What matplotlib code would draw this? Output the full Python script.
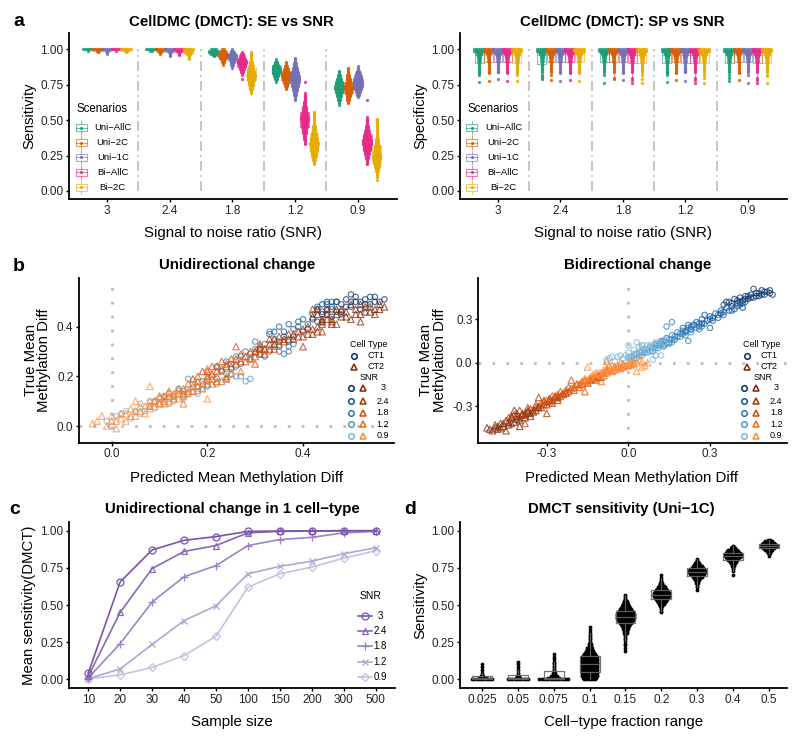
import numpy as np
import matplotlib
matplotlib.use('Agg')
import matplotlib.pyplot as plt
import matplotlib.ticker as mticker
from matplotlib.patches import Rectangle
from matplotlib.lines import Line2D

plt.rcParams['font.family'] = ['Liberation Sans', 'DejaVu Sans']

# ---------------- data ----------------
snr_labels = ['3', '2.4', '1.8', '1.2', '0.9']
scenarios = ['Uni\u2212AllC', 'Uni\u22122C', 'Uni\u22121C', 'Bi\u2212AllC', 'Bi\u22122C']

# panel a (sensitivity): per SNR, per scenario -> lowest value and dot counts per 0.01 step
se_lo = [
    [0.99, 0.98, 0.97, 0.99, 0.98],
    [0.99, 0.97, 0.95, 0.96, 0.93],
    [0.95, 0.89, 0.87, 0.79, 0.69],
    [0.77, 0.72, 0.64, 0.33, 0.19],
    [0.61, 0.62, 0.66, 0.19, 0.08],
]
se_counts = [
    [[1, 6], [1, 2, 6], [1, 1, 2, 6], [1, 6], [1, 2, 6]],
    [[2, 6], [1, 2, 3, 6], [1, 1, 1, 2, 3, 6], [1, 1, 2, 3, 6], [1, 1, 1, 2, 3, 4, 5, 6]],
    [[1, 2, 4, 6, 6, 4],
     [1, 1, 2, 2, 3, 4, 5, 6, 5, 4, 3, 2],
     [1, 1, 2, 2, 3, 3, 4, 5, 5, 5, 4, 3, 2, 1],
     [1, 0, 0, 1, 1, 2, 2, 3, 3, 4, 4, 5, 5, 5, 4, 3, 3, 2, 2, 1],
     [1, 1, 1, 2, 2, 2, 3, 3, 3, 4, 4, 4, 4, 5, 4, 4, 4, 3, 3, 3, 2, 2, 2, 1, 1, 1, 1, 1, 1, 1]],
    [[1, 1, 2, 2, 3, 3, 4, 4, 5, 5, 4, 4, 3, 2, 2, 1, 1],
     [1, 1, 2, 2, 3, 3, 4, 4, 4, 5, 5, 4, 4, 3, 3, 2, 2, 1, 1, 1],
     [1, 1, 1, 1, 2, 2, 2, 3, 3, 3, 4, 4, 4, 5, 5, 5, 5, 5, 4, 4, 4, 3, 3, 3, 2, 2, 2, 1, 1, 1, 1],
     [1, 1, 1, 1, 2, 2, 2, 2, 3, 3, 3, 3, 4, 4, 4, 4, 4, 5, 5, 5, 4, 4, 4, 3, 3, 3, 3, 2, 2, 2, 2,
      1, 1, 1, 1, 1, 1, 0, 0, 0, 0, 0, 0, 0, 1],
     [1, 1, 1, 2, 2, 2, 3, 3, 3, 4, 4, 4, 4, 4, 5, 5, 4, 4, 4, 3, 3, 3, 3, 2, 2, 2, 2, 2, 1, 1, 1, 1,
      1, 1, 1, 1, 1, 1]],
    [[1, 1, 1, 2, 2, 2, 3, 3, 3, 4, 4, 5, 5, 5, 4, 4, 4, 3, 3, 2, 2, 2, 1, 1, 1],
     [1, 1, 2, 2, 2, 3, 3, 4, 4, 4, 5, 5, 5, 4, 4, 3, 3, 3, 2, 2, 2, 1, 1, 1, 1, 1],
     [1, 1, 2, 2, 3, 3, 4, 4, 5, 5, 5, 5, 5, 4, 4, 4, 3, 3, 2, 2, 1, 1, 1],
     [1, 1, 1, 1, 2, 2, 2, 3, 3, 3, 4, 4, 4, 4, 5, 5, 5, 5, 4, 4, 4, 3, 3, 3, 2, 2, 2, 2, 1, 1, 1, 1,
      1, 1, 0, 0, 0, 0, 0, 0, 0, 0, 0, 0, 0, 1],
     [1, 0, 1, 1, 1, 1, 2, 2, 2, 3, 3, 3, 4, 4, 4, 5, 5, 5, 4, 4, 4, 3, 3, 3, 3, 2, 2, 2, 2, 2, 1, 1,
      1, 1, 1, 1, 1, 1, 1, 1, 1, 1, 1, 1]],
]

# panel a (specificity): common body (0.84 .. 1.00) plus the low tail of each group
sp_body_lo = 0.84
sp_body = [1, 1, 1, 1, 1, 1, 1, 1, 2, 1, 2, 2, 2, 3, 4, 6, 6]
sp_tail = [
    [[0.77, 0.82, 0.83], [0.775, 0.83], [0.79, 0.84], [0.775, 0.83], [0.775, 0.82, 0.83]],
    [[0.79, 0.80, 0.81, 0.82], [0.78, 0.82], [0.775, 0.83], [0.78, 0.83], [0.775, 0.83]],
    [[0.765, 0.82], [0.79, 0.80], [0.78, 0.83], [0.765, 0.78, 0.80], [0.76, 0.79, 0.82]],
    [[0.77, 0.82, 0.83], [0.785, 0.83], [0.775, 0.85, 0.86], [0.76, 0.78, 0.80], [0.765, 0.80, 0.82]],
    [[0.775, 0.80, 0.82], [0.785, 0.83], [0.765, 0.82], [0.76, 0.78, 0.80], [0.76, 0.81, 0.82]],
]

# panel b: (predicted, true) mean methylation difference, per SNR (3, 2.4, 1.8, 1.2, 0.9)
uni_ct1 = [
    [(0.43, 0.47), (0.45, 0.50), (0.46, 0.48), (0.47, 0.50), (0.48, 0.49), (0.49, 0.51), (0.50, 0.50),
     (0.50, 0.48), (0.51, 0.52), (0.52, 0.50), (0.53, 0.51), (0.54, 0.49), (0.55, 0.52), (0.56, 0.50),
     (0.52, 0.47), (0.48, 0.46), (0.44, 0.45), (0.46, 0.44), (0.44, 0.49), (0.47, 0.46), (0.49, 0.48),
     (0.51, 0.50), (0.53, 0.49), (0.55, 0.50), (0.57, 0.51), (0.45, 0.47), (0.50, 0.53), (0.54, 0.52)],
    [(0.33, 0.37), (0.35, 0.40), (0.36, 0.38), (0.37, 0.41), (0.38, 0.36), (0.39, 0.40), (0.40, 0.43),
     (0.41, 0.41), (0.42, 0.45), (0.43, 0.48), (0.44, 0.46), (0.45, 0.49), (0.46, 0.47), (0.47, 0.50),
     (0.40, 0.38), (0.43, 0.42), (0.48, 0.45), (0.35, 0.34), (0.34, 0.38), (0.36, 0.36), (0.38, 0.39),
     (0.39, 0.42), (0.41, 0.39), (0.42, 0.43), (0.44, 0.42), (0.45, 0.45), (0.46, 0.50), (0.37, 0.34)],
    [(0.22, 0.24), (0.24, 0.26), (0.25, 0.23), (0.26, 0.28), (0.27, 0.25), (0.28, 0.30), (0.29, 0.27),
     (0.30, 0.31), (0.31, 0.29), (0.32, 0.33), (0.33, 0.30), (0.34, 0.35), (0.35, 0.32), (0.36, 0.29),
     (0.37, 0.30), (0.38, 0.33), (0.30, 0.34), (0.33, 0.38), (0.23, 0.22), (0.25, 0.25), (0.26, 0.24),
     (0.27, 0.28), (0.29, 0.29), (0.31, 0.31), (0.32, 0.28), (0.34, 0.32), (0.35, 0.30), (0.37, 0.32)],
    [(0.09, 0.10), (0.11, 0.12), (0.12, 0.09), (0.14, 0.15), (0.15, 0.12), (0.17, 0.17), (0.18, 0.14),
     (0.19, 0.18), (0.20, 0.16), (0.21, 0.20), (0.22, 0.17), (0.23, 0.22), (0.24, 0.19), (0.25, 0.21),
     (0.27, 0.20), (0.28, 0.18), (0.29, 0.19), (0.16, 0.19), (0.10, 0.11), (0.12, 0.13), (0.13, 0.12),
     (0.15, 0.14), (0.16, 0.13), (0.18, 0.16), (0.20, 0.18), (0.22, 0.19), (0.24, 0.21), (0.26, 0.20)],
    [(-0.01, 0.02), (0.00, 0.00), (0.01, 0.04), (0.03, 0.06), (0.04, 0.03), (0.06, 0.09), (0.07, 0.06),
     (0.08, 0.10), (0.09, 0.07), (0.10, 0.11), (0.11, 0.09), (0.12, 0.13), (0.13, 0.10), (0.14, 0.14),
     (0.15, 0.11), (0.16, 0.15), (0.18, 0.13), (0.20, 0.16), (0.02, 0.05), (0.05, 0.06), (0.06, 0.05),
     (0.08, 0.08), (0.10, 0.09), (0.11, 0.12), (0.13, 0.12), (0.15, 0.13), (0.17, 0.14), (0.19, 0.15)],
]
uni_ct2 = [
    [(0.42, 0.44), (0.43, 0.47), (0.44, 0.42), (0.45, 0.45), (0.46, 0.43), (0.47, 0.47), (0.48, 0.44),
     (0.49, 0.46), (0.50, 0.43), (0.51, 0.47), (0.52, 0.45), (0.53, 0.48), (0.54, 0.46), (0.55, 0.47),
     (0.56, 0.49), (0.57, 0.48), (0.50, 0.49), (0.46, 0.41), (0.52, 0.42), (0.43, 0.45), (0.45, 0.47),
     (0.47, 0.45), (0.48, 0.47), (0.49, 0.44), (0.51, 0.45), (0.53, 0.46), (0.54, 0.48), (0.55, 0.45),
     (0.56, 0.47), (0.44, 0.43), (0.52, 0.49)],
    [(0.30, 0.30), (0.31, 0.33), (0.32, 0.31), (0.33, 0.35), (0.34, 0.33), (0.35, 0.36), (0.36, 0.34),
     (0.37, 0.37), (0.38, 0.35), (0.39, 0.38), (0.40, 0.36), (0.41, 0.40), (0.42, 0.37), (0.43, 0.40),
     (0.44, 0.38), (0.45, 0.43), (0.47, 0.41), (0.42, 0.47), (0.40, 0.32), (0.31, 0.31), (0.33, 0.33),
     (0.34, 0.35), (0.36, 0.35), (0.37, 0.35), (0.38, 0.37), (0.39, 0.36), (0.40, 0.39), (0.41, 0.37),
     (0.42, 0.39), (0.43, 0.38), (0.44, 0.41), (0.46, 0.42)],
    [(0.17, 0.19), (0.19, 0.22), (0.20, 0.20), (0.21, 0.24), (0.22, 0.22), (0.23, 0.26), (0.24, 0.24),
     (0.25, 0.27), (0.26, 0.25), (0.27, 0.29), (0.28, 0.26), (0.29, 0.30), (0.30, 0.28), (0.31, 0.32),
     (0.32, 0.29), (0.33, 0.31), (0.35, 0.33), (0.26, 0.32), (0.24, 0.19), (0.30, 0.25), (0.18, 0.20),
     (0.20, 0.22), (0.21, 0.21), (0.22, 0.24), (0.23, 0.23), (0.24, 0.25), (0.25, 0.24), (0.26, 0.27),
     (0.27, 0.26), (0.28, 0.28), (0.29, 0.27), (0.30, 0.30), (0.31, 0.29), (0.32, 0.31), (0.34, 0.31)],
    [(0.08, 0.08), (0.10, 0.12), (0.11, 0.10), (0.12, 0.14), (0.13, 0.11), (0.14, 0.15), (0.15, 0.13),
     (0.16, 0.17), (0.17, 0.14), (0.18, 0.18), (0.19, 0.15), (0.20, 0.19), (0.21, 0.17), (0.22, 0.20),
     (0.23, 0.18), (0.25, 0.21), (0.27, 0.22), (0.20, 0.23), (0.15, 0.09), (0.09, 0.10), (0.10, 0.09),
     (0.11, 0.12), (0.12, 0.12), (0.13, 0.13), (0.14, 0.13), (0.15, 0.15), (0.16, 0.14), (0.17, 0.16),
     (0.18, 0.16), (0.19, 0.17), (0.20, 0.17), (0.21, 0.19), (0.22, 0.18), (0.24, 0.20)],
    [(-0.04, 0.01), (-0.02, 0.04), (-0.01, 0.00), (0.00, 0.02), (0.01, -0.01), (0.02, 0.05), (0.03, 0.02),
     (0.04, 0.07), (0.05, 0.04), (0.06, 0.08), (0.07, 0.05), (0.08, 0.10), (0.09, 0.08), (0.10, 0.12),
     (0.11, 0.09), (0.12, 0.14), (0.14, 0.11), (0.16, 0.13), (0.20, 0.11), (0.05, 0.10), (0.08, 0.16),
     (-0.03, 0.02), (0.00, 0.04), (0.01, 0.02), (0.02, 0.03), (0.03, 0.05), (0.04, 0.04), (0.05, 0.06),
     (0.06, 0.06), (0.07, 0.08), (0.08, 0.07), (0.09, 0.10), (0.10, 0.09), (0.11, 0.11), (0.12, 0.10),
     (0.13, 0.12), (0.14, 0.13), (0.15, 0.12), (0.17, 0.14)],
]
bi_ct1 = [
    [(0.35, 0.40), (0.37, 0.42), (0.38, 0.39), (0.39, 0.44), (0.40, 0.41), (0.41, 0.45), (0.42, 0.43),
     (0.43, 0.46), (0.44, 0.44), (0.45, 0.47), (0.46, 0.45), (0.47, 0.48), (0.48, 0.46), (0.49, 0.50),
     (0.50, 0.47), (0.51, 0.49), (0.52, 0.48), (0.46, 0.51), (0.42, 0.38), (0.36, 0.42), (0.38, 0.41),
     (0.40, 0.43), (0.41, 0.42), (0.43, 0.44), (0.44, 0.46), (0.45, 0.45), (0.47, 0.46), (0.48, 0.48),
     (0.49, 0.47), (0.50, 0.49), (0.52, 0.50), (0.53, 0.47)],
    [(0.20, 0.24), (0.22, 0.26), (0.23, 0.23), (0.25, 0.28), (0.26, 0.25), (0.27, 0.30), (0.28, 0.27),
     (0.30, 0.32), (0.31, 0.29), (0.32, 0.34), (0.33, 0.31), (0.34, 0.36), (0.35, 0.33), (0.36, 0.38),
     (0.38, 0.36), (0.40, 0.39), (0.42, 0.41), (0.30, 0.24), (0.28, 0.33), (0.21, 0.22), (0.23, 0.25),
     (0.24, 0.26), (0.26, 0.27), (0.27, 0.27), (0.29, 0.29), (0.30, 0.30), (0.31, 0.31), (0.33, 0.33),
     (0.34, 0.34), (0.35, 0.35), (0.37, 0.36), (0.39, 0.37), (0.41, 0.40), (0.43, 0.42)],
    [(0.10, 0.13), (0.12, 0.15), (0.13, 0.12), (0.14, 0.17), (0.15, 0.14), (0.16, 0.19), (0.17, 0.16),
     (0.18, 0.21), (0.19, 0.18), (0.20, 0.22), (0.21, 0.19), (0.22, 0.24), (0.23, 0.21), (0.24, 0.26),
     (0.26, 0.23), (0.14, 0.25), (0.22, 0.15), (0.16, 0.28), (0.11, 0.12), (0.12, 0.13), (0.13, 0.15),
     (0.15, 0.16), (0.16, 0.16), (0.17, 0.18), (0.18, 0.18), (0.19, 0.20), (0.20, 0.20), (0.21, 0.21),
     (0.23, 0.23), (0.25, 0.24), (0.27, 0.25)],
    [(0.00, 0.03), (0.02, 0.05), (0.03, 0.03), (0.04, 0.07), (0.05, 0.05), (0.06, 0.09), (0.07, 0.07),
     (0.08, 0.11), (0.09, 0.08), (0.10, 0.12), (0.11, 0.10), (0.12, 0.14), (0.13, 0.11), (0.15, 0.13),
     (0.17, 0.16), (0.05, 0.12), (0.10, 0.05), (0.01, 0.04), (0.02, 0.03), (0.03, 0.06), (0.04, 0.05),
     (0.05, 0.07), (0.06, 0.07), (0.07, 0.09), (0.08, 0.08), (0.09, 0.10), (0.10, 0.10), (0.11, 0.12),
     (0.12, 0.12), (0.14, 0.13), (0.16, 0.14)],
    [(-0.08, 0.02), (-0.06, 0.04), (-0.05, 0.01), (-0.03, 0.05), (-0.02, 0.03), (0.00, 0.07), (0.01, 0.04),
     (0.02, 0.09), (0.03, 0.06), (0.04, 0.11), (0.05, 0.08), (0.07, 0.12), (0.08, 0.10), (0.10, 0.14),
     (0.12, 0.12), (0.14, 0.16), (0.00, 0.12), (0.03, 0.14), (0.09, 0.02), (0.12, 0.05), (-0.07, 0.03),
     (-0.04, 0.04), (-0.01, 0.05), (0.00, 0.04), (0.02, 0.06), (0.04, 0.07), (0.05, 0.10), (0.06, 0.09),
     (0.08, 0.12), (0.09, 0.11), (0.11, 0.13), (0.13, 0.14)],
]
bi_ct2 = [
    [(-0.52, -0.45), (-0.50, -0.47), (-0.49, -0.43), (-0.48, -0.46), (-0.47, -0.42), (-0.46, -0.44),
     (-0.45, -0.40), (-0.44, -0.43), (-0.43, -0.38), (-0.42, -0.41), (-0.41, -0.37), (-0.40, -0.40),
     (-0.39, -0.36), (-0.38, -0.38), (-0.37, -0.34), (-0.36, -0.37), (-0.34, -0.33), (-0.45, -0.47),
     (-0.40, -0.44), (-0.42, -0.33), (-0.51, -0.46), (-0.49, -0.45), (-0.48, -0.44), (-0.47, -0.45),
     (-0.46, -0.42), (-0.44, -0.41), (-0.43, -0.42), (-0.41, -0.39), (-0.40, -0.38), (-0.38, -0.36),
     (-0.36, -0.35), (-0.35, -0.34), (-0.33, -0.31)],
    [(-0.44, -0.38), (-0.42, -0.36), (-0.40, -0.33), (-0.38, -0.35), (-0.37, -0.31), (-0.35, -0.33),
     (-0.34, -0.29), (-0.32, -0.31), (-0.31, -0.27), (-0.30, -0.29), (-0.29, -0.25), (-0.28, -0.28),
     (-0.27, -0.23), (-0.26, -0.26), (-0.24, -0.22), (-0.22, -0.20), (-0.33, -0.24), (-0.30, -0.35),
     (-0.38, -0.42), (-0.43, -0.37), (-0.41, -0.35), (-0.39, -0.35), (-0.37, -0.33), (-0.36, -0.32),
     (-0.34, -0.31), (-0.33, -0.30), (-0.31, -0.29), (-0.29, -0.27), (-0.28, -0.26), (-0.26, -0.24),
     (-0.25, -0.23), (-0.23, -0.21)],
    [(-0.32, -0.28), (-0.30, -0.26), (-0.28, -0.23), (-0.26, -0.24), (-0.25, -0.20), (-0.23, -0.21),
     (-0.22, -0.17), (-0.20, -0.19), (-0.19, -0.15), (-0.18, -0.17), (-0.17, -0.13), (-0.15, -0.14),
     (-0.14, -0.11), (-0.12, -0.12), (-0.11, -0.09), (-0.10, -0.10), (-0.21, -0.12), (-0.16, -0.20),
     (-0.31, -0.26), (-0.29, -0.25), (-0.27, -0.24), (-0.26, -0.22), (-0.24, -0.21), (-0.23, -0.19),
     (-0.21, -0.18), (-0.20, -0.17), (-0.18, -0.15), (-0.17, -0.15), (-0.16, -0.13), (-0.14, -0.12),
     (-0.13, -0.11), (-0.11, -0.10)],
    [(-0.20, -0.17), (-0.18, -0.15), (-0.16, -0.12), (-0.15, -0.14), (-0.13, -0.10), (-0.12, -0.11),
     (-0.10, -0.07), (-0.09, -0.09), (-0.08, -0.05), (-0.06, -0.06), (-0.05, -0.03), (-0.03, -0.04),
     (-0.02, -0.01), (0.00, -0.02), (0.02, 0.00), (-0.10, -0.13), (-0.07, -0.02), (-0.19, -0.15),
     (-0.17, -0.14), (-0.15, -0.12), (-0.14, -0.11), (-0.12, -0.09), (-0.11, -0.09), (-0.09, -0.07),
     (-0.08, -0.07), (-0.07, -0.05), (-0.05, -0.05), (-0.04, -0.03), (-0.02, -0.03), (-0.01, -0.02),
     (0.01, -0.01)],
    [(-0.17, -0.13), (-0.15, -0.03), (-0.14, -0.10), (-0.12, -0.07), (-0.10, -0.09), (-0.09, -0.05),
     (-0.07, -0.06), (-0.06, -0.02), (-0.04, -0.04), (-0.03, 0.00), (-0.01, -0.02), (0.01, 0.01),
     (0.02, -0.01), (0.04, 0.02), (0.05, -0.03), (0.07, 0.00), (0.03, -0.06), (-0.08, 0.01),
     (-0.16, -0.11), (-0.13, -0.08), (-0.11, -0.07), (-0.09, -0.07), (-0.08, -0.04), (-0.06, -0.05),
     (-0.05, -0.03), (-0.03, -0.03), (-0.02, -0.01), (0.00, -0.01), (0.01, -0.02), (0.03, 0.00),
     (0.05, 0.01), (0.06, -0.02)],
]

# panel c
sample_sizes = ['10', '20', '30', '40', '50', '100', '150', '200', '300', '500']
sens_by_snr = [
    [0.04, 0.655, 0.87, 0.935, 0.96, 0.995, 0.997, 0.998, 1.0, 1.0],
    [0.02, 0.45, 0.745, 0.86, 0.90, 0.985, 0.995, 0.997, 0.998, 0.998],
    [0.01, 0.24, 0.52, 0.69, 0.765, 0.90, 0.94, 0.955, 0.985, 0.995],
    [0.005, 0.07, 0.235, 0.395, 0.495, 0.71, 0.76, 0.795, 0.845, 0.885],
    [0.003, 0.03, 0.08, 0.16, 0.29, 0.62, 0.71, 0.755, 0.815, 0.865],
]

# panel d: lowest value and dot counts per 0.01 step
frac_labels = ['0.025', '0.05', '0.075', '0.1', '0.15', '0.2', '0.3', '0.4', '0.5']
d_lo = [0.0, 0.0, 0.0, 0.0, 0.19, 0.45, 0.60, 0.70, 0.83]
d_counts = [
    [10, 4, 2, 1, 1, 0, 1, 0, 1, 0, 1],
    [10, 3, 2, 1, 1, 0, 1, 0, 1, 0, 1, 0, 1],
    [14, 6, 4, 2, 2, 1, 1, 1, 1, 1, 1, 1, 1, 0, 1, 1, 0, 1],
    [6, 7, 8, 8, 8, 8, 8, 8, 8, 8, 8, 8, 8, 8, 8, 8, 7, 6, 5, 4, 3, 3, 2, 2, 2, 1, 1, 1, 1, 1, 1, 1, 0, 1, 0, 1],
    [1, 0, 1, 0, 1, 1, 0, 1, 1, 1, 1, 1, 2, 2, 2, 3, 3, 4, 5, 6, 7, 8, 9, 9, 9, 9, 8, 7, 6, 5, 4, 3, 3, 2,
     2, 1, 1, 1, 1],
    [1, 1, 1, 1, 2, 2, 3, 4, 5, 6, 7, 8, 8, 8, 7, 6, 5, 4, 3, 2, 2, 1, 1, 1, 0, 1],
    [1, 0, 1, 1, 1, 2, 2, 3, 4, 5, 6, 7, 8, 8, 7, 6, 5, 4, 3, 2, 1, 1],
    [1, 0, 0, 1, 1, 1, 2, 2, 3, 4, 5, 6, 7, 8, 8, 7, 6, 5, 3, 2, 1],
    [1, 1, 2, 3, 4, 6, 7, 8, 7, 6, 4, 2],
]

# ---------------- styles ----------------
dark2 = ['#1B9E77', '#D95F02', '#7570B3', '#E7298A', '#E6AB02']
blues = ['#08306B', '#0B559F', '#2B7BBA', '#4A98C9', '#7DB8DA']
oranges = ['#7F2704', '#A63603', '#D94801', '#F16913', '#FD8D3C']
purples = ['#7B52AE', '#8B68B9', '#9C84C4', '#B3A6D5', '#C8C0E3']
c_markers = ['o', '^', '+', 'x', 'D']
c_msize = [5, 5, 6, 5, 4]

W, H = 800, 744
fig = plt.figure(figsize=(8, 7.44), dpi=100)


def fx(x):
    return x / W


def fy(y):
    return 1 - y / H


def ftext(x, y, s, **kw):
    fig.text(fx(x), fy(y), s, **kw)


def add_ax(l, t, r, b):
    ax = fig.add_axes([l / W, 1 - b / H, (r - l) / W, (b - t) / H])
    ax.spines['top'].set_visible(False)
    ax.spines['right'].set_visible(False)
    ax.spines['left'].set_linewidth(1.3)
    ax.spines['bottom'].set_linewidth(1.3)
    ax.tick_params(length=2.5, width=1.0, labelsize=8.5, pad=1.5, labelcolor='#222222')
    ax.patch.set_alpha(0)
    return ax


def swarm_xy(center, lo, counts, step, dx):
    xs, ys = [], []
    for k, n in enumerate(counts):
        for m in range(n):
            xs.append(center + (m - (n - 1) / 2) * dx)
            ys.append(round(lo + k * step, 4))
    return xs, ys


def draw_box(ax, vals, pos, width, color, lw=0.8, alpha=0.55, z=2):
    ax.boxplot([vals], positions=[pos], widths=width, showcaps=False, showfliers=False,
               manage_ticks=False, whis=1.5,
               boxprops=dict(color=color, lw=lw, alpha=alpha),
               whiskerprops=dict(color=color, lw=lw, alpha=alpha),
               medianprops=dict(color=color, lw=lw, alpha=alpha),
               zorder=z)


def fig_line(xs, ys, **kw):
    fig.add_artist(Line2D([fx(v) for v in xs], [fy(v) for v in ys], transform=fig.transFigure, **kw))


offsets = [-0.3, -0.15, 0.0, 0.15, 0.3]


def panel_a(ax, kind):
    for i in range(5):
        for j in range(5):
            pos = i + offsets[j]
            c = dark2[j]
            if kind == 'se':
                xs, ys = swarm_xy(pos, se_lo[i][j], se_counts[i][j], 0.01, 0.03)
            else:
                xs, ys = swarm_xy(pos, sp_body_lo, sp_body, 0.01, 0.03)
                xs += [pos] * len(sp_tail[i][j])
                ys += sp_tail[i][j]
            draw_box(ax, ys, pos, 0.14, c)
            ax.scatter(xs, ys, s=5.5, color=c, alpha=0.85, linewidths=0, zorder=3)
    for i in range(4):
        ax.plot([i + 0.5, i + 0.5], [0, 1], color='#BBBBBB', lw=1.2,
                linestyle=(0, (6, 2.5, 1, 2.5)), zorder=1)
    ax.set_xlim(-0.606, 4.625)
    ax.set_ylim(-0.0565, 1.115)
    ax.set_xticks(range(5))
    ax.set_xticklabels(snr_labels)
    ax.set_yticks([0, 0.25, 0.5, 0.75, 1.0])
    ax.set_yticklabels(['0.00', '0.25', '0.50', '0.75', '1.00'])


def legend_a(x0):
    ftext(x0 - 4.5, 109, 'Scenarios', fontsize=8.3, va='center', ha='left')
    for j, lab in enumerate(scenarios):
        y = [127.7, 142.5, 157.3, 172.3, 187.3][j]
        c = dark2[j]
        fig_line([x0, x0], [y - 6.5, y - 3.5], color=c, lw=0.8, alpha=0.6)
        fig_line([x0, x0], [y + 3.5, y + 6.5], color=c, lw=0.8, alpha=0.6)
        fig.add_artist(Rectangle((fx(x0 - 5.5), fy(y + 3.5)), 11 / W, 7 / H, transform=fig.transFigure,
                                 fill=False, ec=c, lw=0.8, alpha=0.6))
        fig_line([x0 - 5.5, x0 + 5.5], [y, y], color=c, lw=0.8, alpha=0.6)
        fig_line([x0], [y], color=c, marker='o', ms=2.2, mew=0, ls='none')
        ftext(x0 + 31.7, y, lab, fontsize=6.8, ha='center', va='center')


# ---- panel a ----
ax1 = add_ax(69, 33, 397, 199)
panel_a(ax1, 'se')
ax1.set_ylabel('Sensitivity', fontsize=10.5, labelpad=3)
ftext(231, 22, 'CellDMC (DMCT): SE vs SNR', fontsize=10.8, fontweight='bold', ha='center', va='center')
ftext(232.5, 233, 'Signal to noise ratio (SNR)', fontsize=10.8, ha='center', va='center')
legend_a(81)

ax2 = add_ax(460, 33, 787, 199)
panel_a(ax2, 'sp')
ax2.set_ylabel('Specificity', fontsize=10.5, labelpad=3)
ftext(622.5, 22, 'CellDMC (DMCT): SP vs SNR', fontsize=10.8, fontweight='bold', ha='center', va='center')
ftext(622.5, 233, 'Signal to noise ratio (SNR)', fontsize=10.8, ha='center', va='center')
legend_a(471.7)


# ---- panel b ----
def panel_b(ax, ct1, ct2):
    ax.axvline(0, color='#BDBDBD', lw=2.0, linestyle=(0, (1, 4)), zorder=1)
    ax.axhline(0, color='#BDBDBD', lw=2.0, linestyle=(0, (1, 4)), zorder=1)
    for k in range(5):
        pts = np.array(ct1[k])
        ax.scatter(pts[:, 0], pts[:, 1], s=15, marker='o', facecolors='none', edgecolors=blues[k],
                   linewidths=0.85, alpha=0.7, zorder=2)
    for k in range(5):
        pts = np.array(ct2[k])
        ax.scatter(pts[:, 0], pts[:, 1], s=22, marker='^', facecolors='none', edgecolors=oranges[k],
                   linewidths=0.85, alpha=0.7, zorder=3)
    ax.set_ylabel('True Mean\nMethylation Diff', fontsize=10.8, linespacing=0.95, labelpad=4)
    ax.xaxis.set_major_formatter(mticker.FormatStrFormatter('%.1f'))
    ax.yaxis.set_major_formatter(mticker.FormatStrFormatter('%.1f'))


def legend_b(xc):
    # xc = centre of the "Cell Type" title
    ftext(xc, 345, 'Cell Type', fontsize=6.5, ha='center', va='center')
    fig_line([xc - 14.5], [356], marker='o', ms=4, mfc='none', mec=blues[0], mew=1.1, ls='none')
    fig_line([xc - 14.5], [366.7], marker='^', ms=4.5, mfc='none', mec=oranges[0], mew=1.1, ls='none')
    ftext(xc + 7.5, 356, 'CT1', fontsize=6.5, ha='center', va='center')
    ftext(xc + 7.5, 366.7, 'CT2', fontsize=6.5, ha='center', va='center')
    ftext(xc + 1, 377.3, 'SNR', fontsize=6.5, ha='center', va='center')
    for k, lab in enumerate(snr_labels):
        y = [387.5, 401, 412.5, 424, 435.5][k]
        fig_line([xc - 17.5], [y], marker='o', ms=4, mfc='none', mec=blues[k], mew=1.1, ls='none')
        fig_line([xc - 5.5], [y], marker='^', ms=4.5, mfc='none', mec=oranges[k], mew=1.1, ls='none')
        ftext(xc + 14.5, y, lab, fontsize=6.5, ha='center', va='center')


ax3 = add_ax(79, 278, 394, 442.7)
panel_b(ax3, uni_ct1, uni_ct2)
ax3.set_xlim(-0.068, 0.59)
ax3.set_ylim(-0.067, 0.596)
ax3.set_xticks([0, 0.2, 0.4])
ax3.set_yticks([0, 0.2, 0.4])
ftext(237, 265, 'Unidirectional change', fontsize=10.8, fontweight='bold', ha='center', va='center')
ftext(237, 478.3, 'Predicted Mean Methylation Diff', fontsize=10.8, ha='center', va='center')
legend_b(368.3)

ax4 = add_ax(478, 278, 787, 442.7)
panel_b(ax4, bi_ct1, bi_ct2)
ax4.set_xlim(-0.553, 0.583)
ax4.set_ylim(-0.553, 0.585)
ax4.set_xticks([-0.3, 0, 0.3])
ax4.set_yticks([-0.3, 0, 0.3])
ftext(638, 265, 'Bidirectional change', fontsize=10.8, fontweight='bold', ha='center', va='center')
ftext(631.7, 478.3, 'Predicted Mean Methylation Diff', fontsize=10.8, ha='center', va='center')
legend_b(761.7)

# ---- panel c ----
ax5 = add_ax(69, 522, 395, 688)
xs_c = np.arange(len(sample_sizes))
for k in range(5):
    ax5.plot(xs_c, sens_by_snr[k], color=purples[k], lw=1.2, marker=c_markers[k], ms=c_msize[k],
             mfc='none', mec=purples[k], mew=0.9, zorder=10 - k)
ax5.set_xlim(-0.6, 9.6)
ax5.set_ylim(-0.058, 1.058)
ax5.set_xticks(xs_c)
ax5.set_xticklabels(sample_sizes)
ax5.set_yticks([0, 0.25, 0.5, 0.75, 1.0])
ax5.set_yticklabels(['0.00', '0.25', '0.50', '0.75', '1.00'])
ax5.set_ylabel('Mean sensitivity(DMCT)', fontsize=10.7, labelpad=3)
ax5.set_xlabel('Sample size', fontsize=10.8, labelpad=7)
ftext(232.5, 509, 'Unidirectional change in 1 cell\u2212type', fontsize=10.8, fontweight='bold',
      ha='center', va='center')
ftext(370.7, 596, 'SNR', fontsize=7.5, ha='center', va='center')
for k, lab in enumerate(snr_labels):
    y = [615.7, 630.7, 645.7, 661.7, 676.7][k]
    fig_line([358, 372], [y, y], color=purples[k], lw=1.2)
    fig_line([365], [y], marker=c_markers[k], ms=c_msize[k], mfc='none', mec=purples[k], mew=0.9, ls='none')
    ftext(380, y, lab, fontsize=7, ha='center', va='center')

# ---- panel d ----
ax6 = add_ax(460, 522, 787, 688)
for i in range(len(frac_labels)):
    xs, ys = swarm_xy(i, d_lo[i], d_counts[i], 0.01, 0.062)
    ax6.scatter(xs, ys, s=7.5, color='black', linewidths=0, zorder=2)
    draw_box(ax6, ys, i, 0.55, '#666666', lw=0.9, alpha=0.9, z=3)
ax6.set_xlim(-0.62, 8.51)
ax6.set_ylim(-0.058, 1.058)
ax6.set_xticks(range(len(frac_labels)))
ax6.set_xticklabels(frac_labels)
ax6.set_yticks([0, 0.25, 0.5, 0.75, 1.0])
ax6.set_yticklabels(['0.00', '0.25', '0.50', '0.75', '1.00'])
ax6.set_ylabel('Sensitivity', fontsize=10.7, labelpad=3)
ax6.set_xlabel('Cell\u2212type fraction range', fontsize=10.8, labelpad=7)
ftext(621.7, 509, 'DMCT sensitivity (Uni\u22121C)', fontsize=10.8, fontweight='bold', ha='center', va='center')

# panel letters
for lab, x, y in [('a', 19, 22), ('b', 18.3, 266.7), ('c', 15, 510), ('d', 410, 510)]:
    ftext(x, y, lab, fontsize=14, fontweight='bold', ha='center', va='center')

fig.savefig('out.png', dpi=100)
